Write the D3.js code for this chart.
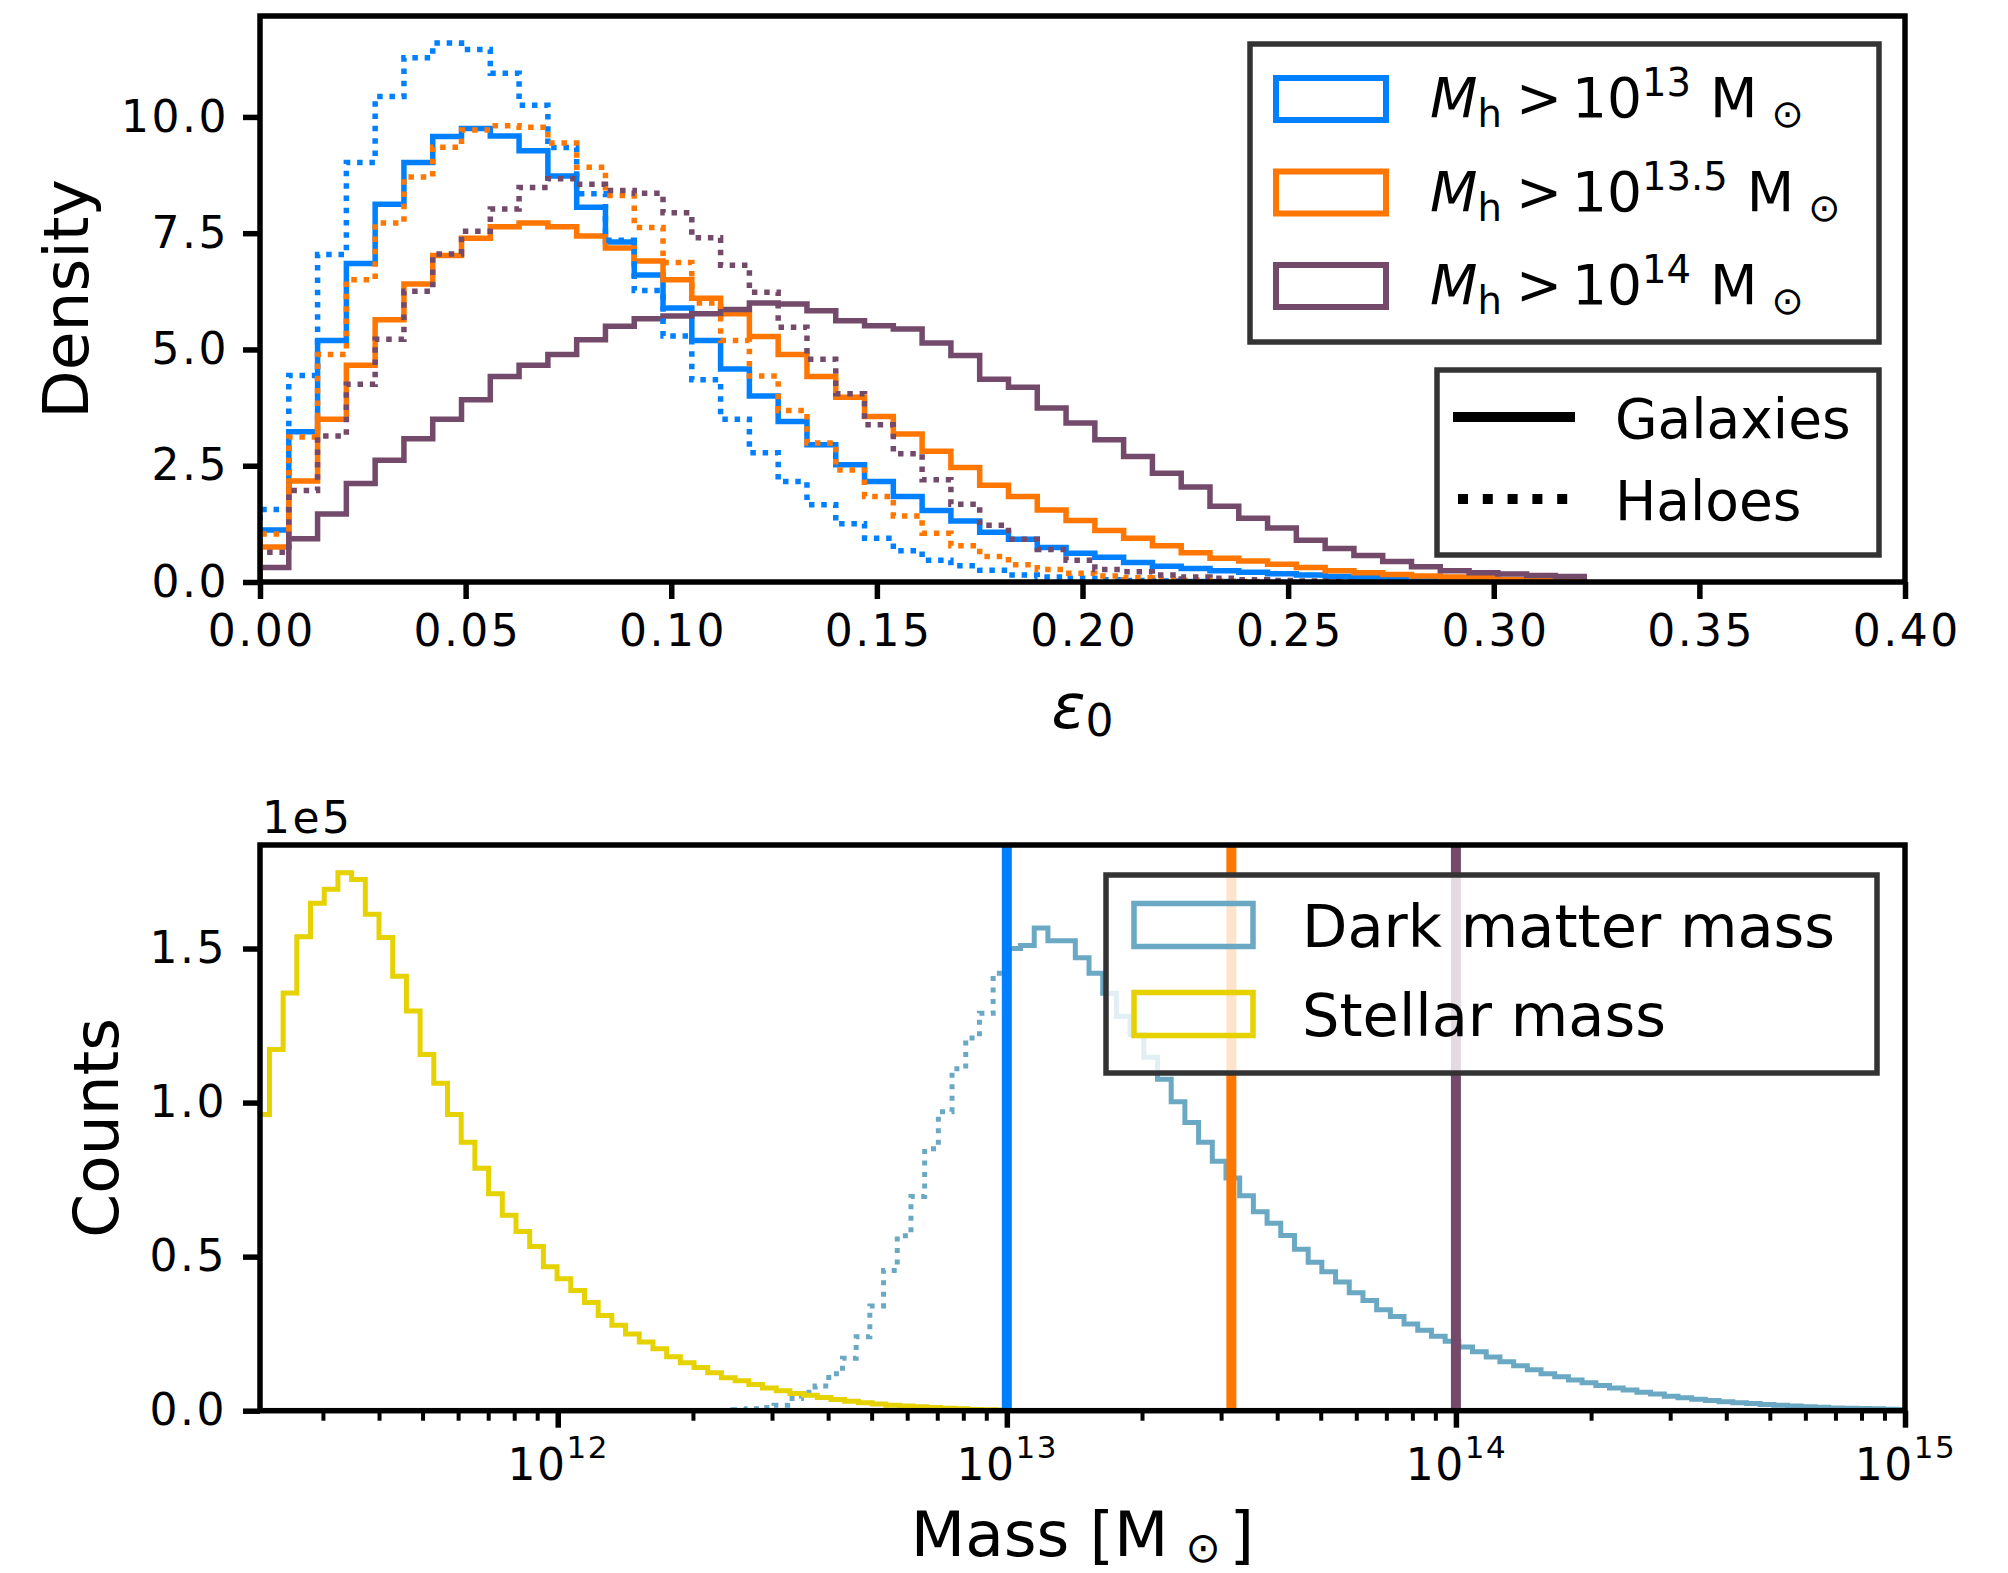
<!DOCTYPE html>
<html>
<head>
<meta charset="utf-8">
<script src="https://cdn.jsdelivr.net/npm/d3@7"></script>
<style>
  body { margin: 0; background: #fff; }
  svg { display: block; }
  text { font-family: "DejaVu Sans", sans-serif; fill: #000; }
</style>
</head>
<body>
<svg id="chart"></svg>
<script>
const width = 2008;
const height = 1573;

// ---- top panel: epsilon_0 density histograms (bins of 0.007 starting at 0)
const epsBinWidth = 0.007;
const galaxies13 = [1.12, 3.23, 5.19, 6.85, 8.12, 9.02, 9.58, 9.75, 9.59, 9.27, 8.73, 8.06, 7.31, 6.60, 5.89, 5.19, 4.58, 4.00, 3.45, 2.95, 2.52, 2.16, 1.84, 1.54, 1.31, 1.07, 0.92, 0.74, 0.62, 0.53, 0.42, 0.34, 0.29, 0.24, 0.21, 0.18, 0.15, 0.12, 0.10, 0.07, 0.05, 0.04, 0.03, 0.02, 0.01, 0.01];
const haloes13 = [1.56, 4.44, 7.04, 9.02, 10.44, 11.27, 11.59, 11.45, 10.94, 10.25, 9.34, 8.35, 7.35, 6.27, 5.29, 4.35, 3.50, 2.78, 2.16, 1.66, 1.25, 0.94, 0.67, 0.47, 0.35, 0.25, 0.15, 0.11, 0.08, 0.05, 0.03, 0.02, 0.01, 0.01];
const galaxies135 = [0.75, 2.17, 3.50, 4.66, 5.64, 6.41, 7.02, 7.39, 7.64, 7.72, 7.64, 7.44, 7.18, 6.90, 6.50, 6.10, 5.77, 5.28, 4.89, 4.42, 3.97, 3.56, 3.18, 2.81, 2.46, 2.08, 1.84, 1.55, 1.32, 1.11, 0.94, 0.78, 0.63, 0.51, 0.45, 0.38, 0.31, 0.24, 0.20, 0.16, 0.13, 0.11, 0.09, 0.05, 0.03, 0.01];
const haloes135 = [1.03, 3.12, 4.89, 6.50, 7.72, 8.71, 9.35, 9.72, 9.81, 9.78, 9.44, 8.92, 8.31, 7.62, 6.87, 6.00, 5.19, 4.43, 3.69, 2.99, 2.41, 1.84, 1.42, 1.05, 0.78, 0.55, 0.37, 0.27, 0.19, 0.13, 0.09, 0.06, 0.04, 0.02, 0.01];
const galaxies14 = [0.31, 0.93, 1.46, 2.12, 2.62, 3.08, 3.50, 3.92, 4.42, 4.66, 4.89, 5.21, 5.50, 5.66, 5.72, 5.77, 5.86, 6.00, 5.98, 5.83, 5.62, 5.51, 5.44, 5.14, 4.87, 4.36, 4.19, 3.74, 3.42, 3.06, 2.70, 2.34, 2.04, 1.63, 1.37, 1.16, 0.90, 0.72, 0.57, 0.44, 0.33, 0.24, 0.20, 0.17, 0.14, 0.12];
const haloes14 = [0.64, 1.97, 3.14, 4.25, 5.22, 6.25, 7.05, 7.54, 8.02, 8.48, 8.67, 8.55, 8.42, 8.36, 7.94, 7.40, 6.81, 6.23, 5.48, 4.79, 4.05, 3.38, 2.76, 2.20, 1.67, 1.22, 0.92, 0.70, 0.47, 0.27, 0.22, 0.15, 0.11, 0.08, 0.05, 0.03, 0.02, 0.01];
const epsTicks = [0, 0.05, 0.10, 0.15, 0.20, 0.25, 0.30, 0.35, 0.40];
const densityTicks = [0, 2.5, 5, 7.5, 10];

// ---- bottom panel: mass histograms, counts in units of 1e5, log10 bins
const logBinWidth = 0.0305;
const stellarLogStart = 11.3275;
const stellarCounts = [0.961, 1.172, 1.356, 1.538, 1.647, 1.692, 1.746, 1.724, 1.611, 1.536, 1.410, 1.297, 1.156, 1.063, 0.961, 0.871, 0.787, 0.704, 0.634, 0.582, 0.533, 0.467, 0.428, 0.390, 0.351, 0.309, 0.277, 0.249, 0.223, 0.201, 0.175, 0.156, 0.140, 0.123, 0.107, 0.097, 0.085, 0.074, 0.065, 0.056, 0.050, 0.043, 0.036, 0.031, 0.026, 0.022, 0.018, 0.015, 0.013, 0.010, 0.008, 0.006, 0.004, 0.003, 0.002, 0.001, 0.001];
const haloCutLog = 13;
// dark matter below the 1e13 cut (dotted), bins ending at the cut
const darkBelowCut = [0.003, 0.006, 0.010, 0.018, 0.040, 0.060, 0.080, 0.120, 0.170, 0.240, 0.340, 0.455, 0.568, 0.695, 0.850, 0.970, 1.110, 1.210, 1.290, 1.420];
// dark matter above the cut (solid), bins starting at the cut
const darkAboveCut = [1.500, 1.510, 1.567, 1.525, 1.525, 1.470, 1.420, 1.355, 1.280, 1.220, 1.147, 1.076, 1.003, 0.935, 0.871, 0.810, 0.755, 0.698, 0.646, 0.608, 0.569, 0.524, 0.482, 0.451, 0.418, 0.383, 0.358, 0.328, 0.306, 0.281, 0.261, 0.242, 0.225, 0.207, 0.191, 0.174, 0.159, 0.146, 0.133, 0.120, 0.110, 0.100, 0.091, 0.082, 0.074, 0.067, 0.060, 0.054, 0.047, 0.042, 0.037, 0.033, 0.029, 0.026, 0.023, 0.020, 0.018, 0.015, 0.013, 0.011, 0.009, 0.008, 0.007, 0.006, 0.005, 0.004];
const massCutsLog = [13, 13.5, 14];
const countTicks = [0, 0.5, 1.0, 1.5];
const massTicks = [1e12, 1e13, 1e14, 1e15];

const cutColors = ["#0080ff", "#ff7700", "#744a6b"];
const darkColor = "#6aa8c4";
const stellarColor = "#e6d200";
const frameColor = "#333333";
const tickFont = 44;
const tickSpacing = 2.5;

const svg = d3.select("#chart").attr("width", width).attr("height", height);
const defs = svg.append("defs");

function stepPoints(edges, values) {
    const pts = [[edges[0], 0]];
    values.forEach((v, i) => {
        pts.push([edges[i], v]);
        pts.push([edges[i + 1], v]);
    });
    pts.push([edges[values.length], 0]);
    return pts;
}

function clip(id, x0, y0, x1, y1) {
    defs.append("clipPath").attr("id", id)
        .append("rect").attr("x", x0).attr("y", y0)
        .attr("width", x1 - x0).attr("height", y1 - y0);
}

function styleAxis(g) {
    g.select(".domain").remove();
    g.selectAll(".tick line").attr("stroke", "#000").attr("stroke-width", 5.5);
    g.selectAll(".tick text")
        .attr("font-size", tickFont)
        .attr("font-family", "DejaVu Sans")
        .attr("letter-spacing", tickSpacing);
}

// ================= top panel =================
const topBox = { left: 260, right: 1905, top: 16, bottom: 582 };
const xEps = d3.scaleLinear().domain([0, 0.4]).range([topBox.left, topBox.right]);
const yDen = d3.scaleLinear().domain([0, 12.17]).range([topBox.bottom, topBox.top]);
clip("clipTop", topBox.left, topBox.top, topBox.right, topBox.bottom);

const epsLine = d3.line().x(d => xEps(d[0])).y(d => yDen(d[1]));
const epsEdges = n => d3.range(n + 1).map(i => i * epsBinWidth);

const topSeries = [
    { values: galaxies13, color: cutColors[0], dotted: false },
    { values: galaxies135, color: cutColors[1], dotted: false },
    { values: galaxies14, color: cutColors[2], dotted: false },
    { values: haloes13, color: cutColors[0], dotted: true },
    { values: haloes135, color: cutColors[1], dotted: true },
    { values: haloes14, color: cutColors[2], dotted: true },
];

const topPlot = svg.append("g").attr("clip-path", "url(#clipTop)");
topPlot.selectAll("path")
    .data(topSeries)
    .enter()
    .append("path")
    .attr("d", d => epsLine(stepPoints(epsEdges(d.values.length), d.values)))
    .attr("fill", "none")
    .attr("stroke", d => d.color)
    .attr("stroke-width", 5.5)
    .attr("stroke-linejoin", "miter")
    .attr("stroke-dasharray", d => d.dotted ? "5.5 6.8" : null);

svg.append("g")
    .attr("transform", `translate(0,${topBox.bottom})`)
    .call(d3.axisBottom(xEps).tickValues(epsTicks).tickFormat(d3.format(".2f"))
        .tickSize(17).tickPadding(16))
    .call(styleAxis)
    .call(g => g.selectAll(".tick text").attr("dx", tickSpacing / 2));

svg.append("g")
    .attr("transform", `translate(${topBox.left},0)`)
    .call(d3.axisLeft(yDen).tickValues(densityTicks).tickFormat(d3.format(".1f"))
        .tickSize(17).tickPadding(14))
    .call(styleAxis);

svg.append("rect")
    .attr("x", topBox.left).attr("y", topBox.top)
    .attr("width", topBox.right - topBox.left).attr("height", topBox.bottom - topBox.top)
    .attr("fill", "none").attr("stroke", "#000").attr("stroke-width", 5.5);

svg.append("text")
    .attr("transform", `translate(88,${(topBox.top + topBox.bottom) / 2}) rotate(-90)`)
    .attr("text-anchor", "middle").attr("font-size", 63)
    .text("Density");

const epsLabel = svg.append("text")
    .attr("x", (topBox.left + topBox.right) / 2).attr("y", 728)
    .attr("text-anchor", "middle").attr("font-size", 63);
epsLabel.append("tspan").attr("font-style", "italic").text("ε");
epsLabel.append("tspan").attr("font-size", 44).attr("dy", 8).text("0");

// legend: halo mass cuts
const cutLabels = ["13", "13.5", "14"];
const leg1 = svg.append("g");
leg1.append("rect")
    .attr("x", 1250).attr("y", 44).attr("width", 629).attr("height", 298)
    .attr("fill", "#fff").attr("fill-opacity", 0.8)
    .attr("stroke", frameColor).attr("stroke-width", 5.5);
const rowBase = [117, 210.5, 304];
cutLabels.forEach((lab, i) => {
    leg1.append("rect")
        .attr("x", 1276).attr("y", rowBase[i] - 39).attr("width", 110).attr("height", 42)
        .attr("fill", "none").attr("stroke", cutColors[i]).attr("stroke-width", 6);
    const t = leg1.append("text").attr("x", 1430).attr("y", rowBase[i]).attr("font-size", 55);
    t.append("tspan").attr("font-style", "italic").text("M");
    t.append("tspan").attr("font-size", 38.5).attr("dy", 10).text("h");
    t.append("tspan").attr("dx", 14).attr("dy", -10).text(">");
    t.append("tspan").attr("dx", 10).text("10");
    t.append("tspan").attr("font-size", 38.5).attr("dy", -21).text(lab);
    t.append("tspan").attr("dx", 19).attr("dy", 21).text("M");
    t.append("tspan").attr("font-size", 38.5).attr("dx", 14).attr("dy", 10).text("⊙");
});

// legend: line styles
const leg2 = svg.append("g");
leg2.append("rect")
    .attr("x", 1437).attr("y", 370).attr("width", 442).attr("height", 185)
    .attr("fill", "#fff").attr("fill-opacity", 0.8)
    .attr("stroke", frameColor).attr("stroke-width", 5.5);
leg2.append("line").attr("x1", 1453).attr("x2", 1575).attr("y1", 417).attr("y2", 417)
    .attr("stroke", "#000").attr("stroke-width", 10);
leg2.append("line").attr("x1", 1458).attr("x2", 1575).attr("y1", 499).attr("y2", 499)
    .attr("stroke", "#000").attr("stroke-width", 10).attr("stroke-dasharray", "10 14.8");
leg2.append("text").attr("x", 1615).attr("y", 438).attr("font-size", 55).text("Galaxies");
leg2.append("text").attr("x", 1615).attr("y", 520).attr("font-size", 55).text("Haloes");

// ================= bottom panel =================
const botBox = { left: 260, right: 1905, top: 845, bottom: 1410.7 };
const xMass = d3.scaleLog().domain([Math.pow(10, 11.337), 1e15]).range([botBox.left, botBox.right]);
const yCnt = d3.scaleLinear().domain([0, 1.836]).range([botBox.bottom, botBox.top]);
clip("clipBot", botBox.left, botBox.top, botBox.right, botBox.bottom);

const massLine = d3.line().x(d => xMass(Math.pow(10, d[0]))).y(d => yCnt(d[1]));
const logEdges = (start, n) => d3.range(n + 1).map(i => start + i * logBinWidth);

const botPlot = svg.append("g").attr("clip-path", "url(#clipBot)");
botPlot.append("path")
    .attr("d", massLine(stepPoints(
        logEdges(haloCutLog - darkBelowCut.length * logBinWidth, darkBelowCut.length), darkBelowCut)))
    .attr("fill", "none").attr("stroke", darkColor).attr("stroke-width", 5)
    .attr("stroke-dasharray", "5 6.5");
botPlot.append("path")
    .attr("d", massLine(stepPoints(logEdges(haloCutLog, darkAboveCut.length), darkAboveCut)))
    .attr("fill", "none").attr("stroke", darkColor).attr("stroke-width", 5);
botPlot.append("path")
    .attr("d", massLine(stepPoints(logEdges(stellarLogStart, stellarCounts.length), stellarCounts)))
    .attr("fill", "none").attr("stroke", stellarColor).attr("stroke-width", 5);

botPlot.selectAll("line.cut")
    .data(massCutsLog)
    .enter()
    .append("line")
    .attr("class", "cut")
    .attr("x1", d => xMass(Math.pow(10, d))).attr("x2", d => xMass(Math.pow(10, d)))
    .attr("y1", botBox.top).attr("y2", botBox.bottom)
    .attr("stroke", (d, i) => cutColors[i]).attr("stroke-width", 10);

// legend: mass types
const leg3 = svg.append("g");
leg3.append("rect")
    .attr("x", 1106).attr("y", 875).attr("width", 771).attr("height", 198)
    .attr("fill", "#fff").attr("fill-opacity", 0.8)
    .attr("stroke", frameColor).attr("stroke-width", 5.5);
[["Dark matter mass", darkColor, 946.5], ["Stellar mass", stellarColor, 1035.5]].forEach(([lab, c, yb]) => {
    leg3.append("rect")
        .attr("x", 1134).attr("y", yb - 43).attr("width", 119).attr("height", 43)
        .attr("fill", "none").attr("stroke", c).attr("stroke-width", 5.5);
    leg3.append("text").attr("x", 1302).attr("y", yb).attr("font-size", 59).text(lab);
});

// axes
const minorTicks = [];
for (let dec = 11; dec <= 14; dec++) {
    for (let m = 2; m <= 9; m++) {
        const v = m * Math.pow(10, dec);
        if (v > xMass.domain()[0] && v < 1e15) minorTicks.push(v);
    }
}
svg.append("g")
    .attr("transform", `translate(0,${botBox.bottom})`)
    .call(d3.axisBottom(xMass).tickValues(minorTicks).tickFormat("").tickSize(10))
    .call(g => {
        g.select(".domain").remove();
        g.selectAll(".tick line").attr("stroke", "#000").attr("stroke-width", 4);
    });

const xMassAxis = svg.append("g")
    .attr("transform", `translate(0,${botBox.bottom})`)
    .call(d3.axisBottom(xMass).tickValues(massTicks).tickFormat("").tickSize(17))
    .call(styleAxis);
xMassAxis.selectAll(".tick").append("text")
    .attr("y", 69).attr("text-anchor", "middle").attr("font-size", tickFont).attr("fill", "#000")
    .attr("letter-spacing", 1.5)
    .each(function(d) {
        const t = d3.select(this);
        t.append("tspan").text("10");
        t.append("tspan").attr("font-size", 31).attr("dy", -22).text(Math.round(Math.log10(d)));
    });

svg.append("g")
    .attr("transform", `translate(${botBox.left},0)`)
    .call(d3.axisLeft(yCnt).tickValues(countTicks).tickFormat(d3.format(".1f"))
        .tickSize(17).tickPadding(16))
    .call(styleAxis);

svg.append("rect")
    .attr("x", botBox.left).attr("y", botBox.top)
    .attr("width", botBox.right - botBox.left).attr("height", botBox.bottom - botBox.top)
    .attr("fill", "none").attr("stroke", "#000").attr("stroke-width", 5.5);

svg.append("text").attr("x", 262).attr("y", 833)
    .attr("font-size", tickFont).attr("letter-spacing", tickSpacing).text("1e5");

svg.append("text")
    .attr("transform", `translate(118,${(botBox.top + botBox.bottom) / 2}) rotate(-90)`)
    .attr("text-anchor", "middle").attr("font-size", 63)
    .text("Counts");

const massLabel = svg.append("text")
    .attr("x", (botBox.left + botBox.right) / 2).attr("y", 1556)
    .attr("text-anchor", "middle").attr("font-size", 63);
massLabel.append("tspan").text("Mass [M");
massLabel.append("tspan").attr("font-size", 42).attr("dx", 17).attr("dy", 6).text("⊙");
massLabel.append("tspan").attr("dx", 9).attr("dy", -6).text("]");
</script>
</body>
</html>
